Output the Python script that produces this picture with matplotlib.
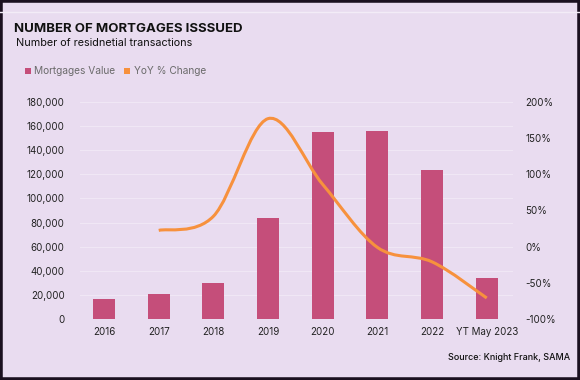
import matplotlib
matplotlib.use("Agg")
import matplotlib.pyplot as plt
import numpy as np
from matplotlib.patches import Rectangle
from matplotlib.lines import Line2D
from matplotlib.path import Path
from matplotlib.patches import PathPatch

categories = ["2016", "2017", "2018", "2019", "2020", "2021", "2022", "YT May 2023"]
mortgages = [16300, 20700, 29600, 84000, 155100, 156200, 123300, 34300]
yoy_cats = ["2017", "2018", "2019", "2020", "2021", "2022", "YT May 2023"]
yoy = [22.5, 42, 177, 86, -1, -21, -71]
left_ticks = [0, 20000, 40000, 60000, 80000, 100000, 120000, 140000, 160000, 180000]
right_ticks = [-100, -50, 0, 50, 100, 150, 200]

BG = "#E9DCF0"
BAR = "#C54E7A"
ORANGE = "#F7913D"
TXT = "#222222"
FONT = ["Inter", "DejaVu Sans"]
plt.rcParams['font.family'] = FONT

fig = plt.figure(figsize=(5.8, 3.8), dpi=100)
fig.patch.set_facecolor(BG)

ax = fig.add_axes([80/580, (380-319)/380, 433/580, 217/380])
ax.set_facecolor(BG)
x = np.arange(len(categories))
ax.bar(x, mortgages, width=0.4, color=BAR, zorder=2)
ax.set_xlim(-0.44, 7.48)
ax.set_ylim(0, 180000)
ax.set_yticks(left_ticks)
ax.set_yticklabels([f"{v:,}" for v in left_ticks])
ax.set_xticks(x)
ax.set_xticklabels(categories)
ax.grid(axis='y', color="#F0E7F5", linewidth=0.8, zorder=0)
for s in ax.spines.values():
    s.set_visible(False)
ax.tick_params(axis='both', length=0, colors=TXT, labelsize=7)
ax.tick_params(axis='y', pad=11)
ax.tick_params(axis='x', pad=6)

ax2 = ax.twinx()
ax2.set_ylim(-100, 200)
ax2.set_yticks(right_ticks)
ax2.set_yticklabels([f"{v}%" for v in right_ticks])
for s in ax2.spines.values():
    s.set_visible(False)
ax2.tick_params(axis='y', length=0, colors=TXT, labelsize=7, pad=9)

# smoothed line (Catmull-Rom style Bezier, like spreadsheet smoothing)
xi = np.array([categories.index(c) for c in yoy_cats], dtype=float)
yi = np.array(yoy, dtype=float)
pts = np.column_stack([xi, yi])
verts = [tuple(pts[0])]
codes = [Path.MOVETO]
n = len(pts)
for i in range(n - 1):
    p0 = pts[i - 1] if i > 0 else pts[i]
    p1 = pts[i]
    p2 = pts[i + 1]
    p3 = pts[i + 2] if i + 2 < n else pts[i + 1]
    c1 = p1 + (p2 - p0) / 6
    c2 = p2 - (p3 - p1) / 6
    verts += [tuple(c1), tuple(c2), tuple(p2)]
    codes += [Path.CURVE4] * 3
ax2.add_patch(PathPatch(Path(verts, codes), facecolor='none', edgecolor=ORANGE,
                        linewidth=2.2, capstyle='butt', zorder=3))

# titles
fig.text(14/580, 1 - 29/380, "NUMBER OF MORTGAGES ISSSUED", fontsize=9.5,
         fontweight='bold', color="#111111", va='center', ha='left')
fig.text(16/580, 1 - 43/380, "Number of residnetial transactions", fontsize=7.8,
         color="#111111", va='center', ha='left')

# legend
fig.patches.append(Rectangle((25/580, 1 - 74/380), 6/580, 6/380, transform=fig.transFigure,
                             facecolor=BAR, edgecolor='none'))
fig.text(34/580, 1 - 71/380, "Mortgages Value", fontsize=7.3, color="#6b6b6b", va='center')
fig.patches.append(Rectangle((124/580, 1 - 74/380), 6/580, 6/380, transform=fig.transFigure,
                             facecolor=ORANGE, edgecolor='none'))
fig.text(134/580, 1 - 71/380, "YoY % Change", fontsize=7.3, color="#6b6b6b", va='center')

# source
fig.text(570/580, 1 - 358/380, "Source: Knight Frank, SAMA", fontsize=6.5,
         fontweight='medium', color="#111111", ha='right', va='center')

# top thin line and frame
fig.add_artist(Line2D([0, 1], [1 - 11.5/380, 1 - 11.5/380], transform=fig.transFigure,
                      color="#F3ECF7", linewidth=1))
fig.patches.append(Rectangle((0, 0), 1, 1, transform=fig.transFigure, facecolor='none',
                             edgecolor="#1B1020", linewidth=4))

fig.savefig("out.png", dpi=100, facecolor=BG)
